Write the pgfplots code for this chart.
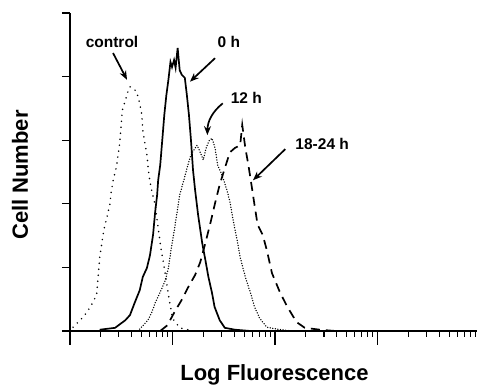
\documentclass[border=0pt]{standalone}
\usepackage{pgfplots}
\pgfplotsset{compat=1.18}
\usepackage{fontspec}
\setmainfont{Liberation Sans}
\usetikzlibrary{arrows.meta}
\begin{document}
\begin{tikzpicture}
\begin{axis}[
  at={(0,0)}, anchor=south west,
  scale only axis, width=407pt, height=318pt,
  xmin=0, xmax=3.97, ymin=0, ymax=5,
  axis x line=bottom, axis y line=left,
  axis line style={-, line width=1.5pt},
  xtick={0,1,2,3}, xticklabels={},
  minor xtick={0.30103,0.47712,0.60206,0.69897,0.77815,0.84510,0.90309,0.95424,
               1.30103,1.47712,1.60206,1.69897,1.77815,1.84510,1.90309,1.95424,
               2.30103,2.47712,2.60206,2.69897,2.77815,2.84510,2.90309,2.95424,
               3.30103,3.47712,3.60206,3.69897,3.77815,3.84510,3.90309,3.95424},
  major tick length=14pt,
  minor tick length=6pt,
  ytick=\empty,
  extra y ticks={0,1,2,3,4,5}, extra y tick labels={},
  extra y tick style={major tick length=8pt},
  tick align=outside,
  tick style={line width=1.3pt, black},
  minor tick style={line width=1.1pt, black},
  clip=false,
]
% control (sparse dotted)
\addplot[black, line width=1.7pt, line cap=round, dash pattern=on 0pt off 6pt] coordinates {
(0.03,0.06) (0.13,0.22) (0.20,0.38) (0.26,0.57) (0.27,0.77) (0.29,1.16) (0.31,1.38)
(0.33,1.59) (0.36,1.79) (0.39,2.00) (0.40,2.17) (0.42,2.36) (0.45,2.56) (0.48,2.88)
(0.49,3.05) (0.50,3.27) (0.51,3.47) (0.54,3.63) (0.57,3.79) (0.585,3.84) (0.615,3.82)
(0.65,3.76) (0.68,3.58) (0.70,3.40) (0.71,3.16) (0.73,2.96) (0.75,2.77) (0.77,2.45)
(0.79,2.26) (0.83,1.98) (0.86,1.62) (0.89,1.27) (0.92,0.99) (0.96,0.57) (1.00,0.20)
(1.07,0.05) (1.15,0.02)
};
% 0 h (solid)
\addplot[black, line width=1.7pt] coordinates {
(0.29,0.02) (0.44,0.05) (0.54,0.17) (0.585,0.25) (0.63,0.44) (0.68,0.64) (0.71,0.85)
(0.75,0.99) (0.78,1.19) (0.81,1.51) (0.83,1.86) (0.85,2.14) (0.86,2.37) (0.88,2.61)
(0.90,3.00) (0.92,3.40) (0.94,3.71) (0.96,3.95) (0.98,4.23) (0.995,4.15) (1.015,4.26)
(1.03,4.14) (1.05,4.45) (1.07,4.10) (1.09,4.03) (1.12,3.98) (1.14,3.71) (1.16,3.40)
(1.18,3.00) (1.20,2.53) (1.22,2.22) (1.25,1.82) (1.29,1.38) (1.32,1.12) (1.35,0.85)
(1.385,0.60) (1.41,0.38) (1.46,0.17) (1.51,0.05) (1.61,0.02) (1.76,0.0)
};
% 12 h (dense dotted)
\addplot[black, line width=1.5pt, line cap=round, dash pattern=on 0pt off 2.6pt] coordinates {
(0.68,0.03) (0.76,0.17) (0.80,0.30) (0.83,0.44) (0.88,0.61) (0.93,0.80) (0.96,0.99)
(0.985,1.27) (1.015,1.56) (1.04,1.82) (1.07,2.14) (1.11,2.37) (1.15,2.61) (1.18,2.77)
(1.21,2.85) (1.24,2.92) (1.27,2.81) (1.30,2.69) (1.33,2.89) (1.36,3.00) (1.385,3.03)
(1.415,2.88) (1.44,2.61) (1.47,2.50) (1.50,2.37) (1.53,2.22) (1.56,2.03) (1.59,1.75)
(1.63,1.43) (1.66,1.16) (1.71,0.85) (1.76,0.60) (1.80,0.38) (1.85,0.20) (1.92,0.06)
(2.02,0.03) (2.15,0.0)
};
% 18-24 h (dashed)
\addplot[black, line width=1.7pt, dash pattern=on 9pt off 6pt] coordinates {
(0.88,0.0) (0.95,0.09) (1.02,0.30) (1.09,0.49) (1.15,0.68) (1.22,0.88) (1.27,1.08)
(1.32,1.38) (1.37,1.70) (1.415,2.01) (1.46,2.30) (1.51,2.56) (1.56,2.81) (1.61,2.88)
(1.66,2.92) (1.68,3.24) (1.71,2.88) (1.74,2.61) (1.77,2.30) (1.80,1.98) (1.83,1.67)
(1.88,1.51) (1.92,1.27) (1.97,0.91) (2.05,0.60) (2.12,0.38) (2.21,0.14) (2.29,0.05)
(2.44,0.02) (2.59,0.0)
};
% annotations
\node[font=\fontsize{15.5}{19}\selectfont\bfseries] at (axis cs:0.41,4.54) {control};
\draw[line width=1.7pt, -{Stealth[length=9pt,width=7pt]}] (axis cs:0.42,4.37) -- (axis cs:0.556,3.95);
\node[font=\fontsize{15.5}{19}\selectfont\bfseries] at (axis cs:1.55,4.54) {0 h};
\draw[line width=1.7pt, -{Stealth[length=9pt,width=7pt]}] (axis cs:1.415,4.29) -- (axis cs:1.17,3.92);
\node[font=\fontsize{15.5}{19}\selectfont\bfseries] at (axis cs:1.72,3.66) {12 h};
\draw[line width=1.7pt, -{Stealth[length=9pt,width=7pt]}] (axis cs:1.49,3.58) to[bend right=25] (axis cs:1.34,3.08);
\node[font=\fontsize{15.5}{19}\selectfont\bfseries] at (axis cs:2.46,2.94) {18-24 h};
\draw[line width=1.7pt, -{Stealth[length=9pt,width=7pt]}] (axis cs:2.10,2.86) -- (axis cs:1.785,2.37);
\end{axis}
\node[font=\fontsize{22}{26}\selectfont\bfseries, anchor=base] at (204.5pt,-50pt) {Log Fluorescence};
\node[font=\fontsize{22}{26}\selectfont\bfseries, anchor=base, rotate=90] at (-42pt,156pt) {Cell Number};
\pgfresetboundingbox
\path[use as bounding box] (-70pt,-57pt) rectangle (407pt,331pt);
\end{tikzpicture}
\end{document}
